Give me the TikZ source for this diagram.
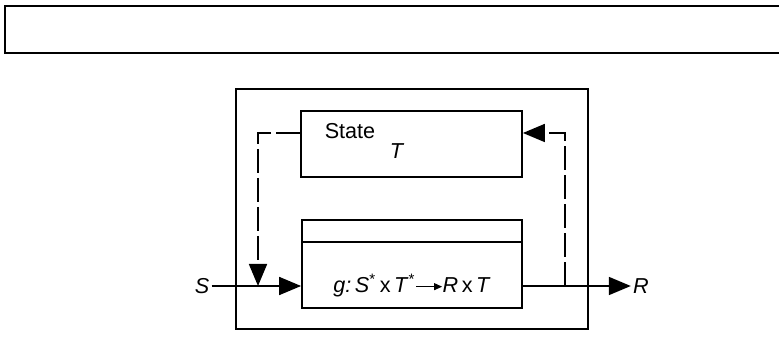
\documentclass[tikz,border=0pt]{standalone}
\usepackage{fontspec}
\setmainfont{Liberation Sans}
\usetikzlibrary{arrows.meta}

\tikzset{
  blk/.style={draw, line width=0.9pt, inner sep=0pt},
  lbl/.style={inner sep=1pt, font=\fontsize{10.8pt}{13pt}\selectfont},
  sig/.style={line width=0.9pt, -{Triangle[length=11pt,width=9pt]}},
  fb/.style={line width=0.9pt, dash pattern=on 12pt off 2.5pt},
}
\newcommand{\maparrow}{\tikz[baseline=-0.55ex]\draw[line width=0.5pt, -{Triangle[length=4pt,width=3.5pt]}] (0,0) -- (13pt,0);}

\begin{document}
\begin{tikzpicture}[x=0.5pt, y=-0.5pt]
\useasboundingbox (0,0) rectangle (779,362);

%top bar
\draw[line width=0.9pt] (779,6) -- (5,6) -- (5,53) -- (779,53);

%outer box
\node[blk, line width=1.2pt, minimum width=176pt, minimum height=120pt] (sys) at (412,209) {};

%state box
\node[blk, minimum width=110.5pt, minimum height=33pt] (state) at (411.5,144) {};
\node[lbl] (statelbl) at (350,131) {State};
\node[lbl] (statevar) at (397,151) {\textit{T}};

%function box
\node[blk, minimum width=110pt, minimum height=44pt] (func) at (412,264) {};
\coordinate (div) at (0,242);
\draw[line width=0.9pt] (func.west |- div) -- (func.east |- div);
\node[lbl] (funclbl) at (412,286) {\textit{g:\,S}\textsuperscript{*}\,x\,\textit{T}\textsuperscript{*}\maparrow\textit{R}\,x\,\textit{T}};

%input and output
\node[lbl] (sin) at (202,286) {\textit{S}};
\node[lbl] (rout) at (641,286) {\textit{R}};
\draw[sig] (sin.east) -- (func.west |- sin.east);
\draw[sig] (func.east |- rout.west) -- (rout.west);

%feedback
\coordinate (fbtop) at (0,133);
\coordinate (tapin) at (258,286);
\coordinate (tapout) at (565,286);
\draw[fb, -{Triangle[length=11pt,width=9pt]}] (state.west |- fbtop) -| (tapin);
\draw[fb, -{Triangle[length=11pt,width=9pt]}] (tapout) |- (state.east |- fbtop);

\end{tikzpicture}
\end{document}
